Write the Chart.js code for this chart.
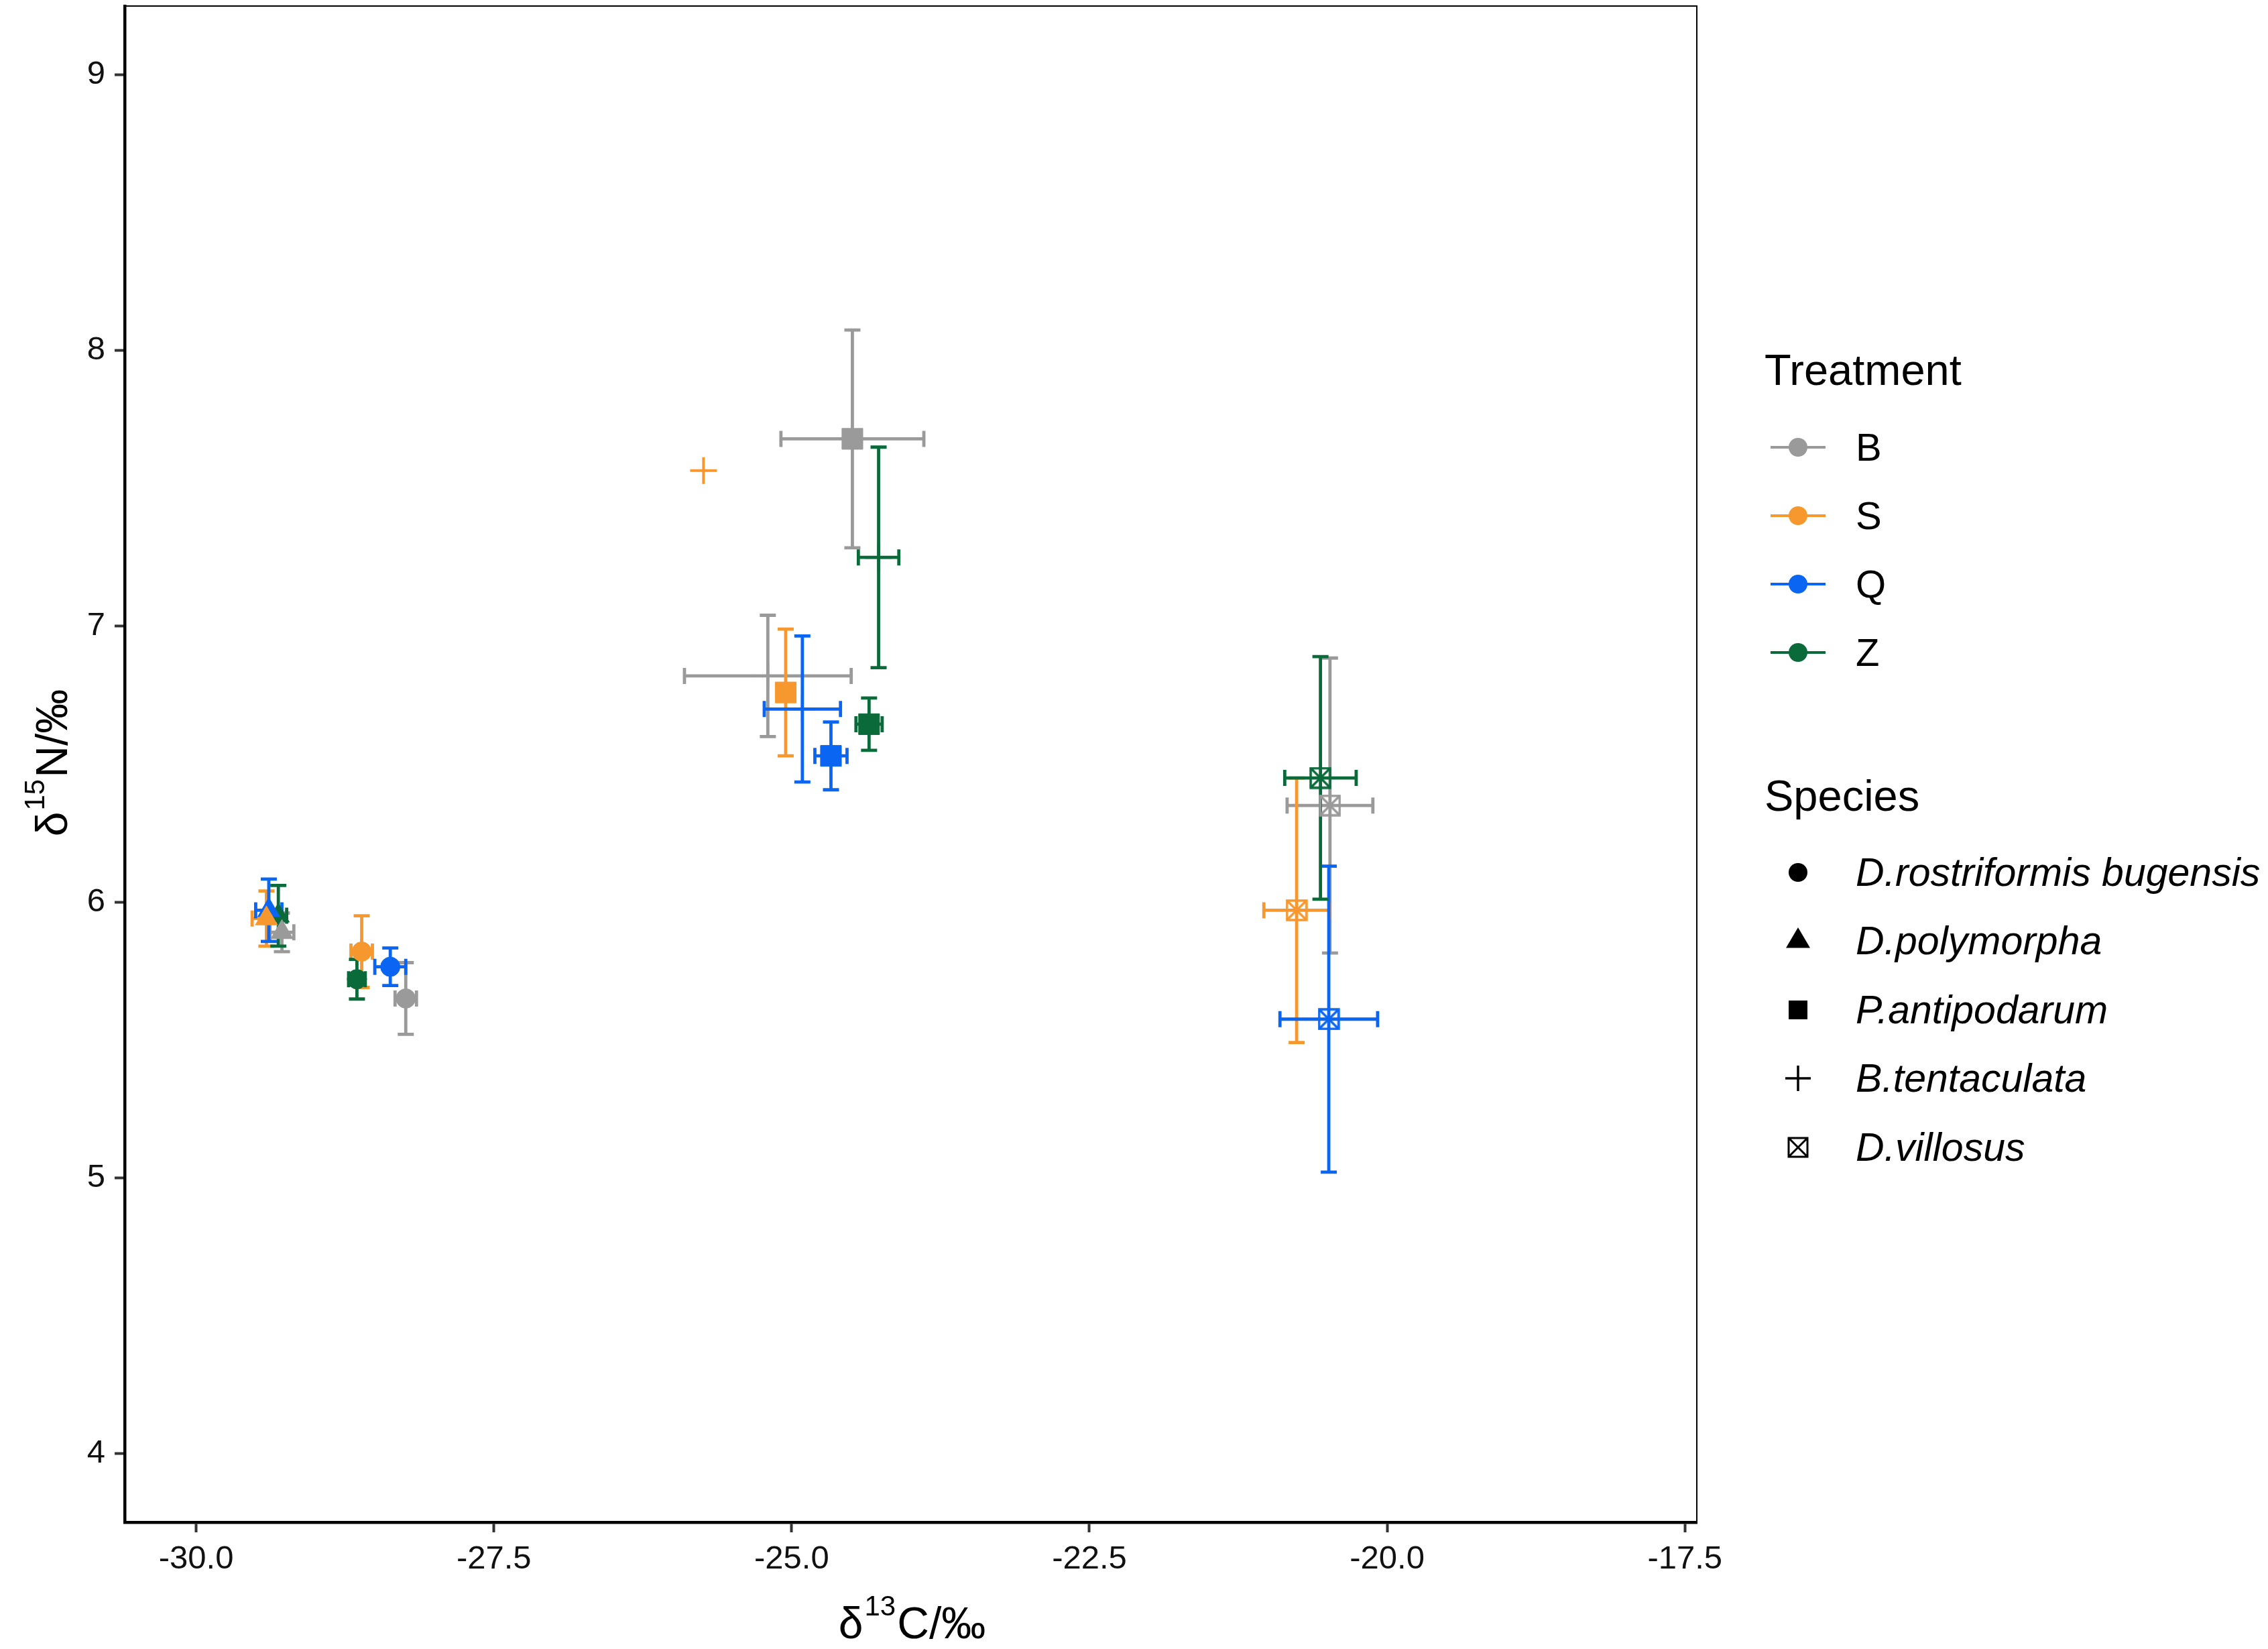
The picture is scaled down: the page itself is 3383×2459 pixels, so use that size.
<!DOCTYPE html>
<html>
<head>
<meta charset="utf-8">
<script src="https://cdn.jsdelivr.net/npm/chart.js@4.4.1/dist/chart.umd.min.js"></script>
<style>
html, body { margin: 0; padding: 0; background: #fff; }
#wrap { position: relative; width: 3383px; height: 2459px; overflow: hidden; }
#chart { position: absolute; left: 0; top: 0; }
.lg { position: absolute; font-family: "Liberation Sans", Arial, sans-serif; color: #000; white-space: nowrap; }
.lg svg { display: block; }
</style>
</head>
<body>
<div id="wrap">
  <canvas id="chart" width="3383" height="2459"></canvas>
  <div id="legend"></div>
</div>
<script>
const treatments = ['B', 'S', 'Q', 'Z'];
const species = ['D.rostriformis bugensis', 'D.polymorpha', 'P.antipodarum', 'B.tentaculata', 'D.villosus'];

// mean and SD per species (same order as species), d13C and d15N
const carbonB    = [-28.24, -29.28, -24.49, -25.20, -20.48];
const carbonSdB  = [0.09, 0.10, 0.60, 0.70, 0.36];
const nitrogenB  = [5.65, 5.89, 7.68, 6.82, 6.35];
const nitrogenSdB = [0.13, 0.07, 0.395, 0.22, 0.535];

const carbonS    = [-28.61, -29.41, -25.05, -25.74, -20.76];
const carbonSdS  = [0.09, 0.12, 0.04, null, 0.275];
const nitrogenS  = [5.82, 5.94, 6.76, 7.565, 5.97];
const nitrogenSdS = [0.13, 0.10, 0.23, null, 0.48];

const carbonQ    = [-28.37, -29.39, -24.67, -24.91, -20.49];
const carbonSdQ  = [0.13, 0.11, 0.135, 0.32, 0.41];
const nitrogenQ  = [5.765, 5.97, 6.53, 6.70, 5.575];
const nitrogenSdQ = [0.068, 0.113, 0.123, 0.265, 0.555];

const carbonZ    = [-28.65, -29.31, -24.35, -24.27, -20.56];
const carbonSdZ  = [0.07, 0.07, 0.11, 0.17, 0.30];
const nitrogenZ  = [5.72, 5.95, 6.645, 7.25, 6.45];
const nitrogenSdZ = [0.072, 0.11, 0.095, 0.40, 0.44];

const xTicks = [-30, -27.5, -25, -22.5, -20, -17.5];
const xTickLabels = ['-30.0', '-27.5', '-25.0', '-22.5', '-20.0', '-17.5'];
const yTicks = [4, 5, 6, 7, 8, 9];
const yTickLabels = ['4', '5', '6', '7', '8', '9'];

// axis titles: [text, superscript, text]
const xTitle = ['δ', '13', 'C/‰'];
const yTitle = ['δ', '15', 'N/‰'];

// styles
const $colors = { B: '#9a9a9a', S: '#f7982f', Q: '#0a66f2', Z: '#0b6a3a' };
const $font = '"Liberation Sans", Arial, sans-serif';
const $radius = [14.5, 19, 22, 20, 16];
const $border = [1, 1, 1, 4, 0];

const seriesOf = {
    B: [carbonB, carbonSdB, nitrogenB, nitrogenSdB],
    S: [carbonS, carbonSdS, nitrogenS, nitrogenSdS],
    Q: [carbonQ, carbonSdQ, nitrogenQ, nitrogenSdQ],
    Z: [carbonZ, carbonSdZ, nitrogenZ, nitrogenSdZ],
};

function boxX(color){
    const c = document.createElement('canvas');
    c.width = 33; c.height = 33;
    const g = c.getContext('2d');
    g.strokeStyle = color;
    g.lineWidth = 3.5;
    g.strokeRect(2, 2, 29, 29);
    g.beginPath();
    g.moveTo(2, 2); g.lineTo(31, 31);
    g.moveTo(31, 2); g.lineTo(2, 31);
    g.stroke();
    return c;
}

function shapesFor(color){
    return ['circle', 'triangle', 'rect', 'cross', boxX(color)];
}

const datasets = treatments.map(t => {
    const [cx, cxSd, ny, nySd] = seriesOf[t];
    return {
        label: t,
        data: species.map((s, i) => ({ x: cx[i], y: ny[i], xSd: cxSd[i], ySd: nySd[i] })),
        backgroundColor: $colors[t],
        borderColor: $colors[t],
        pointStyle: shapesFor($colors[t]),
        pointRadius: $radius,
        pointBorderWidth: $border,
    };
});

// error bars, drawn under the points
const errorBars = {
    id: 'errorBars',
    beforeDatasetsDraw(chart){
        const { ctx, scales: { x, y } } = chart;
        const cap = 12;
        ctx.save();
        ctx.lineWidth = 4.8;
        ctx.lineCap = 'butt';
        chart.data.datasets.forEach(ds => {
            ctx.strokeStyle = ds.borderColor;
            ds.data.forEach(p => {
                const px = x.getPixelForValue(p.x);
                const py = y.getPixelForValue(p.y);
                ctx.beginPath();
                if (p.ySd){
                    const top = y.getPixelForValue(p.y + p.ySd);
                    const bot = y.getPixelForValue(p.y - p.ySd);
                    ctx.moveTo(px, top); ctx.lineTo(px, bot);
                    ctx.moveTo(px - cap, top); ctx.lineTo(px + cap, top);
                    ctx.moveTo(px - cap, bot); ctx.lineTo(px + cap, bot);
                }
                if (p.xSd){
                    const lo = x.getPixelForValue(p.x - p.xSd);
                    const hi = x.getPixelForValue(p.x + p.xSd);
                    ctx.moveTo(lo, py); ctx.lineTo(hi, py);
                    ctx.moveTo(lo, py - cap); ctx.lineTo(lo, py + cap);
                    ctx.moveTo(hi, py - cap); ctx.lineTo(hi, py + cap);
                }
                ctx.stroke();
            });
        });
        ctx.restore();
    }
};

// thin panel border
const panelBorder = {
    id: 'panelBorder',
    beforeDatasetsDraw(chart){
        const { ctx, chartArea: a } = chart;
        ctx.save();
        ctx.strokeStyle = '#000';
        ctx.lineWidth = 2;
        ctx.strokeRect(a.left, a.top, a.right - a.left, a.bottom - a.top);
        ctx.restore();
    }
};

// axis titles with a real superscript
function richText(ctx, parts, size){
    const sup = Math.round(size * 0.64);
    const fonts = [size, sup, size];
    let w = 0;
    const widths = parts.map((p, i) => {
        ctx.font = fonts[i] + 'px ' + $font;
        const m = ctx.measureText(p).width;
        w += m;
        return m;
    });
    let cur = -w / 2;
    parts.forEach((p, i) => {
        ctx.font = fonts[i] + 'px ' + $font;
        ctx.fillText(p, cur + (i === 1 ? 2 : 0), i === 1 ? -size * 0.52 : 0);
        cur += widths[i] + (i === 1 ? 4 : 0);
    });
}

const axisTitles = {
    id: 'axisTitles',
    afterDraw(chart){
        const { ctx, chartArea: a } = chart;
        ctx.save();
        ctx.fillStyle = '#000';
        ctx.textBaseline = 'alphabetic';
        ctx.textAlign = 'left';
        ctx.save();
        ctx.translate((a.left + a.right) / 2, 2443);
        richText(ctx, xTitle, 66);
        ctx.restore();
        ctx.save();
        ctx.translate(100, (a.top + a.bottom) / 2);
        ctx.rotate(-Math.PI / 2);
        richText(ctx, yTitle, 66);
        ctx.restore();
        ctx.restore();
    }
};

new Chart(document.getElementById('chart'), {
    type: 'scatter',
    data: { datasets },
    options: {
        responsive: false,
        animation: false,
        devicePixelRatio: 1,
        events: [],
        layout: { autoPadding: false, padding: { left: 0, top: 9, right: 852, bottom: 0 } },
        plugins: { legend: { display: false }, tooltip: { enabled: false } },
        scales: {
            x: {
                type: 'linear',
                min: -30.6,
                max: -17.4,
                afterFit: s => { s.height = 189; s.paddingLeft = 0; s.paddingRight = 0; },
                afterBuildTicks: s => { s.ticks = xTicks.map(v => ({ value: v })); },
                grid: { display: true, drawOnChartArea: false, tickLength: 15, tickWidth: 4, tickColor: '#333' },
                border: { display: true, color: '#000', width: 4.5 },
                ticks: {
                    color: '#111',
                    padding: 11,
                    maxRotation: 0,
                    font: { family: $font, size: 49 },
                    callback: (v, i) => xTickLabels[i],
                },
                title: { display: false },
            },
            y: {
                type: 'linear',
                min: 3.75,
                max: 9.25,
                afterFit: s => { s.width = 186; s.paddingTop = 0; s.paddingBottom = 0; },
                afterBuildTicks: s => { s.ticks = yTicks.map(v => ({ value: v })); },
                grid: { display: true, drawOnChartArea: false, tickLength: 15, tickWidth: 4, tickColor: '#333' },
                border: { display: true, color: '#000', width: 4.5 },
                ticks: {
                    color: '#111',
                    padding: 14,
                    font: { family: $font, size: 49 },
                    callback: (v, i) => yTickLabels[i],
                },
                title: { display: false },
            },
        },
    },
    plugins: [panelBorder, errorBars, axisTitles],
});

// legend (two groups, like the original)
const legend = document.getElementById('legend');
const symX = 2682, textX = 2768, titleX = 2632;
const treatmentRows = [667, 769, 871, 973];
const speciesRows = [1301, 1403, 1506, 1608, 1711];

function put(html, left, cy, h){
    const d = document.createElement('div');
    d.className = 'lg';
    d.style.left = left + 'px';
    d.style.top = (cy - h / 2) + 'px';
    d.style.height = h + 'px';
    d.style.lineHeight = h + 'px';
    d.innerHTML = html;
    legend.appendChild(d);
    return d;
}

const speciesSvg = [
    '<circle cx="50" cy="30" r="14" fill="#000"/>',
    '<polygon points="50,10 32,40.5 68,40.5" fill="#000"/>',
    '<rect x="36" y="16" width="28" height="28" fill="#000"/>',
    '<path d="M31 30H69M50 11V49" stroke="#000" stroke-width="3.5"/>',
    '<path d="M36 16H64V44H36ZM36 16L64 44M64 16L36 44" stroke="#000" stroke-width="3" fill="none"/>',
];

put('Treatment', titleX, 552, 80).style.fontSize = '65px';
treatments.forEach((t, i) => {
    put('<svg width="100" height="60"><line x1="9" y1="30" x2="91" y2="30" stroke="' + $colors[t] +
        '" stroke-width="4"/><circle cx="50" cy="30" r="14" fill="' + $colors[t] + '"/></svg>', symX - 50, treatmentRows[i], 60);
    put(t, textX, treatmentRows[i], 70).style.fontSize = '58px';
});

put('Species', titleX, 1187, 80).style.fontSize = '65px';
species.forEach((s, i) => {
    put('<svg width="100" height="60">' + speciesSvg[i] + '</svg>', symX - 50, speciesRows[i], 60);
    const d = put(s, textX, speciesRows[i], 70);
    d.style.fontSize = '59px';
    d.style.fontStyle = 'italic';
});
</script>
</body>
</html>
